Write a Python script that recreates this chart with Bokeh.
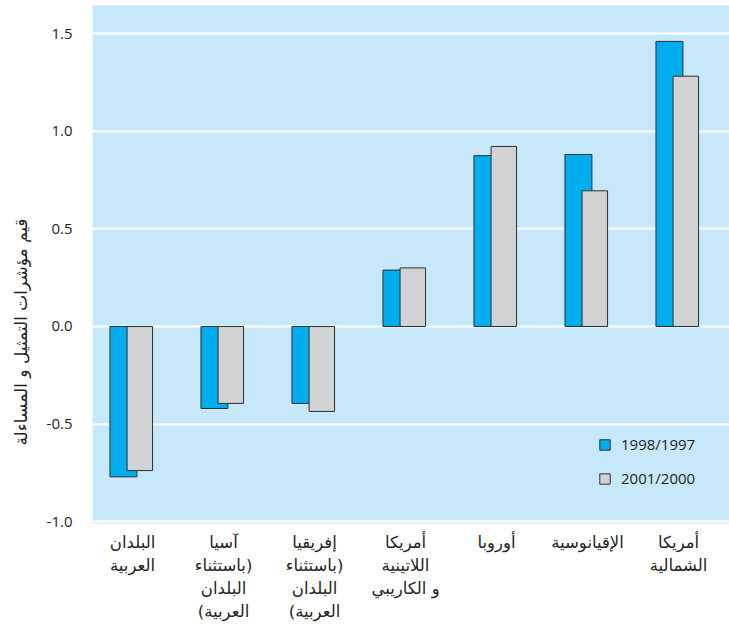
import math
from bokeh.plotting import figure
from bokeh.models import (Range1d, FixedTicker, NumeralTickFormatter, Legend, LegendItem,
                          ColumnDataSource, Title, LinearAxis)
from bokeh.embed import file_html
from bokeh.resources import INLINE

# ---- data ----
# (the brackets are written so that they display as in the original figure)
categories = [
    ["البلدان", "العربية"],
    ["آسيا", "باستثناء)", "البلدان", "(العربية"],
    ["إفريقيا", "باستثناء)", "البلدان", "(العربية"],
    ["أمريكا", "اللاتينية", "و الكاريبي"],
    ["أوروبا"],
    ["الإقيانوسية"],
    ["أمريكا", "الشمالية"],
]
series_names = ["1998/1997", "2001/2000"]
values_9798 = [-0.770, -0.420, -0.394, 0.289, 0.875, 0.881, 1.460]
values_0001 = [-0.738, -0.394, -0.435, 0.300, 0.922, 0.695, 1.282]
y_ticks = [-1.0, -0.5, 0.0, 0.5, 1.0, 1.5]
y_title = "قيم مؤشرات التمثيل و المساءلة"

BLUE = "#00aeef"
GRAY = "#d1d2d4"
BG = "#c6e8fa"
OUTLINE = "#2f2f2f"
TXT = "#231f20"
AR_FONT = "DejaVu Sans"
LAT_FONT = "Open Sans"

n = len(categories)
centers = [i + 0.5 for i in range(n)]
Y0, Y1 = -1.009, 1.644

p = figure(width=729, height=628, output_backend="svg", toolbar_location=None,
           x_range=Range1d(0, n), y_range=Range1d(Y0, Y1),
           x_axis_location=None,
           min_border_left=90, min_border_right=0, min_border_top=5,
           min_border_bottom=105)
p.background_fill_color = BG
p.border_fill_color = "white"
p.outline_line_color = None

src = ColumnDataSource(dict(
    xb=[c - 0.16 for c in centers],
    xg=[c + 0.02 for c in centers],
    v1=values_9798,
    v2=values_0001,
))

r1 = p.vbar(x="xb", top="v1", bottom=0, width=0.296, source=src,
            fill_color=BLUE, line_color=OUTLINE, line_width=1)
r2 = p.vbar(x="xg", top="v2", bottom=0, width=0.28, source=src,
            fill_color=GRAY, line_color=OUTLINE, line_width=1)

# y axis
p.xgrid.visible = False
yax = p.yaxis[0]
yax.ticker = FixedTicker(ticks=y_ticks, minor_ticks=[])
yax.formatter = NumeralTickFormatter(format="0.0")
yax.axis_line_color = None
yax.major_tick_line_color = None
yax.minor_tick_line_color = None
yax.major_tick_out = 0
yax.major_tick_in = 0
yax.major_label_standoff = 20
yax.major_label_text_font = LAT_FONT
yax.major_label_text_font_size = "15px"
yax.major_label_text_color = TXT

p.ygrid.ticker = FixedTicker(ticks=y_ticks, minor_ticks=[])
p.ygrid.grid_line_color = "white"
p.ygrid.grid_line_width = 2

# y title (left side panel)
p.add_layout(Title(text=y_title, align="left", offset=78, standoff=21,
                   vertical_align="top",
                   text_font=AR_FONT, text_font_size="17px", text_font_style="normal",
                   text_color=TXT), "left")

# category labels: one stacked axis per text line
max_lines = max(len(c) for c in categories)
for k in range(max_lines):
    ticks, overrides = [], {}
    for i, lines in enumerate(categories):
        if len(lines) > k:
            t = round(centers[i] - 0.06, 3)
            ticks.append(t)
            overrides[t] = lines[k]
    ax = LinearAxis(ticker=FixedTicker(ticks=ticks, minor_ticks=[]),
                    major_label_overrides=overrides,
                    axis_line_color=None, major_tick_line_color=None,
                    minor_tick_line_color=None, major_tick_out=0, major_tick_in=0,
                    minor_tick_out=0, minor_tick_in=0,
                    major_label_standoff=9 if k == 0 else 1,
                    major_label_text_font=AR_FONT,
                    major_label_text_font_size="16.5px",
                    major_label_text_color=TXT)
    p.add_layout(ax, "below")

legend = Legend(items=[LegendItem(label=series_names[0], renderers=[r1]),
                       LegendItem(label=series_names[1], renderers=[r2])],
                location=(506, 35), orientation="vertical",
                background_fill_alpha=0, border_line_color=None,
                glyph_width=13, glyph_height=13, label_height=20, spacing=14,
                label_standoff=10, padding=0, margin=0,
                label_text_font=LAT_FONT, label_text_font_size="15px",
                label_text_color=TXT)
p.add_layout(legend)

open("out.html", "w").write(file_html(p, INLINE))
